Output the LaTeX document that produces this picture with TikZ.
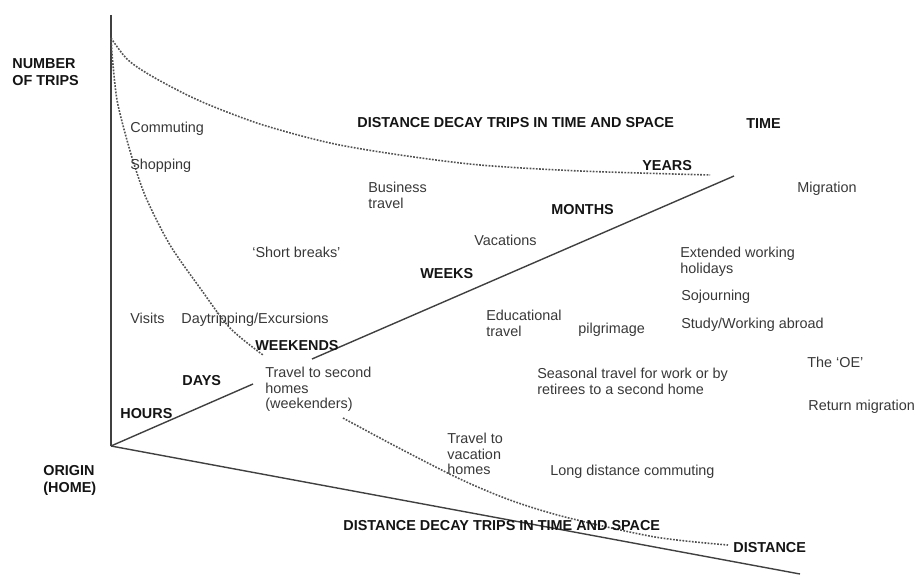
\documentclass[tikz,border=0pt]{standalone}
\usepackage{fontspec}
\setmainfont{Liberation Sans}
\usetikzlibrary{positioning}

\begin{document}
\begin{tikzpicture}[
  x=0.02cm, y=-0.02cm,
  lbl/.style={anchor=north west, inner sep=0pt, align=left, text=black!78, font=\fontsize{8.2}{8.8}\selectfont},
  axislbl/.style={lbl, text=black!92, font=\fontsize{8.2}{9.7}\selectfont\bfseries},
  axis/.style={draw=black!75, line width=0.8pt},
  decay/.style={draw=black!68, line width=0.9pt, dash pattern=on 1pt off 0.8pt}
]
\useasboundingbox (0,0) rectangle (915,574);

% axes
\coordinate (top) at (111,15);
\coordinate (origin) at (111,446);
\coordinate (hoursend) at (253,384);
\coordinate (weekstart) at (312,359);
\coordinate (yearsend) at (734,176);
\coordinate (distend) at (800,574);

\draw[axis, line width=1pt] (top) -- (origin);
\draw[axis] (origin) -- (hoursend);
\draw[axis] (weekstart) -- (yearsend);
\draw[axis] (origin) -- (distend);

% decay curves
\draw[decay] plot[smooth] coordinates {(111,38) (128,60) (155,78) (200,101) (260,124) (330,143) (400,155) (480,165) (580,171) (710,175)};
\draw[decay] plot[smooth] coordinates {(111,38) (113,65) (117,100) (125,133) (135,167) (147,200) (170,245) (200,288) (230,328) (263,355)};
\draw[decay] plot[smooth] coordinates {(343,418) (397,447) (460,479) (510,500) (565,517) (655,537) (728,545)};

% axis labels
\node[axislbl] (numtrips) at (12,58) {NUMBER\\OF TRIPS};
\node[axislbl] (home) at (43,465) {ORIGIN\\(HOME)};
\node[axislbl] (titletop) at (357,117) {DISTANCE DECAY TRIPS IN TIME AND SPACE};
\node[axislbl] (titlebot) at (343,520) {DISTANCE DECAY TRIPS IN TIME AND SPACE};
\node[axislbl] (time) at (746,118) {TIME};
\node[axislbl] (distance) at (733,542) {DISTANCE};
\node[axislbl] (years) at (642,160) {YEARS};
\node[axislbl] (months) at (551,204) {MONTHS};
\node[axislbl] (weeks) at (420,268) {WEEKS};
\node[axislbl] (weekends) at (255,340) {WEEKENDS};
\node[axislbl] (days) at (182,375) {DAYS};
\node[axislbl] (hours) at (120,408) {HOURS};

% trip types
\node[lbl] (commuting) at (130,122) {Commuting};
\node[lbl] (shopping) at (130,159) {Shopping};
\node[lbl] (business) at (368,182) {Business\\travel};
\node[lbl] (shortbreaks) at (252,247) {`Short breaks'};
\node[lbl] (migration) at (797,182) {Migration};
\node[lbl] (vacations) at (474,235) {Vacations};
\node[lbl] (extended) at (680,247) {Extended working\\holidays};
\node[lbl] (sojourning) at (681,290) {Sojourning};
\node[lbl] (visits) at (130,313) {Visits};
\node[lbl] (daytrip) at (181,313) {Daytripping/Excursions};
\node[lbl] (educational) at (486,310) {Educational\\travel};
\node[lbl] (pilgrimage) at (578,323) {pilgrimage};
\node[lbl] (study) at (681,318) {Study/Working abroad};
\node[lbl] (oe) at (807,357) {The `OE'};
\node[lbl] (seasonal) at (537,368) {Seasonal travel for work or by\\retirees to a second home};
\node[lbl] (secondhomes) at (265,367) {Travel to second\\homes\\(weekenders)};
\node[lbl] (vachomes) at (447,433) {Travel to\\vacation\\homes};
\node[lbl] (returnmig) at (808,400) {Return migration};
\node[lbl] (longdist) at (550,465) {Long distance commuting};

\end{tikzpicture}
\end{document}
